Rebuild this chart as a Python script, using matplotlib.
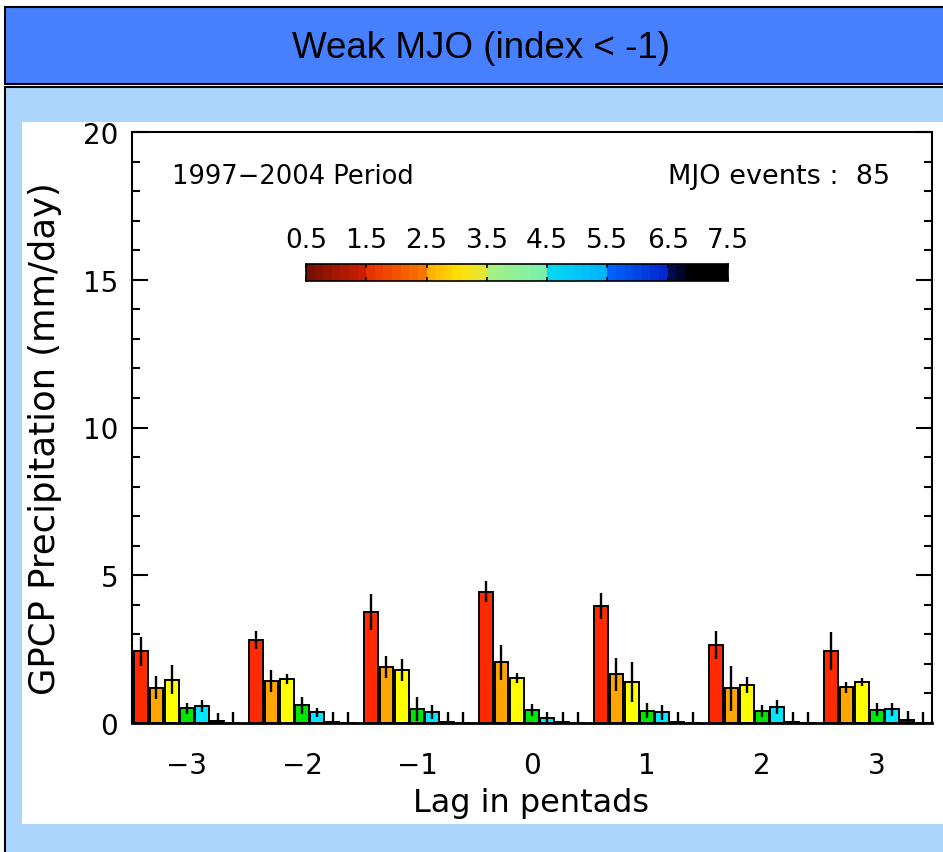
import numpy as np
import matplotlib
matplotlib.use('Agg')
import matplotlib.pyplot as plt
from matplotlib.patches import Rectangle
from matplotlib.colors import LinearSegmentedColormap

# ---------------- data ----------------
lags = [-3, -2, -1, 0, 1, 2, 3]
lag_labels = ['\u22123', '\u22122', '\u22121', '0', '1', '2', '3']
bin_labels = ['0.5', '1.5', '2.5', '3.5', '4.5', '5.5', '6.5', '7.5']
bin_colors = ['#ff2a00', '#ffa500', '#ffff00', '#00e600', '#00e8ff', '#0018c0', '#000000']

bin1 = [2.42, 2.80, 3.77, 4.45, 3.96, 2.63, 2.45]
bin1_err = [0.49, 0.31, 0.61, 0.37, 0.44, 0.48, 0.64]
bin2 = [1.20, 1.42, 1.90, 2.05, 1.65, 1.17, 1.21]
bin2_err = [0.39, 0.36, 0.37, 0.59, 0.56, 0.76, 0.19]
bin3 = [1.47, 1.50, 1.78, 1.52, 1.38, 1.30, 1.38]
bin3_err = [0.48, 0.17, 0.37, 0.17, 0.68, 0.27, 0.13]
bin4 = [0.50, 0.60, 0.47, 0.43, 0.42, 0.40, 0.45]
bin4_err = [0.19, 0.28, 0.40, 0.20, 0.26, 0.20, 0.22]
bin5 = [0.57, 0.36, 0.37, 0.18, 0.36, 0.54, 0.47]
bin5_err = [0.20, 0.16, 0.23, 0.19, 0.25, 0.25, 0.22]
bin6 = [0.06, 0.04, 0.04, 0.05, 0.02, 0.04, 0.10]
bin6_err = [0.29, 0.32, 0.32, 0.32, 0.34, 0.33, 0.29]
bin7 = [0.0, 0.0, 0.0, 0.0, 0.0, 0.0, 0.0]
bin7_err = [0.37, 0.37, 0.37, 0.37, 0.37, 0.37, 0.37]

bins = [bin1, bin2, bin3, bin4, bin5, bin6, bin7]
bins_err = [bin1_err, bin2_err, bin3_err, bin4_err, bin5_err, bin6_err, bin7_err]

title = 'Weak MJO (index < -1)'
period_text = '1997\u22122004 Period'
events_text = 'MJO events :  85'
ylabel = 'GPCP Precipitation (mm/day)'
xlabel = 'Lag in pentads'

# ---------------- figure ----------------
W, H = 943, 853
plt.rcParams['font.family'] = ['DejaVu Sans']
fig = plt.figure(figsize=(W / 100, H / 100), dpi=100, facecolor='white')


def fx(x):
    return x / W


def fy(y):
    return 1 - y / H


def rect(x0, y0, x1, y1, **kw):
    r = Rectangle((fx(x0), fy(y1)), fx(x1) - fx(x0), fy(y0) - fy(y1),
                  transform=fig.transFigure, **kw)
    fig.add_artist(r)
    return r


# backgrounds
rect(5, 8, 960, 85, facecolor='#4680ff', edgecolor='black', linewidth=1.5, zorder=-5)
rect(5, 88, 960, 870, facecolor='#aad5fd', edgecolor='black', linewidth=1.5, zorder=-5)
rect(22, 123, 960, 825, facecolor='white', edgecolor='none', zorder=-4)

fig.text(fx(481), fy(58), title, ha='center', va='baseline',
         fontsize=26.5, family='Liberation Sans', color='black')

# main axes
ax = fig.add_axes([fx(132), fy(724), fx(932) - fx(132), fy(133) - fy(724)])
ax.set_facecolor('white')
ax.set_xlim(-3.478, 3.478)
ax.set_ylim(0, 20)

pitch = 0.133
width = 0.119
lag_arr = np.array(lags, dtype=float)
for i, (vals, errs) in enumerate(zip(bins, bins_err)):
    v = np.array(vals)
    e = np.array(errs)
    xs = lag_arr + (i - 3) * pitch
    ax.bar(xs, v, width=width, color=bin_colors[i], edgecolor='black',
           linewidth=1.4, zorder=2)
    lo = v - np.minimum(e, v)
    ax.vlines(xs, lo, v + e, color='black', linewidth=1.7, zorder=3)

ax.set_xticks(lags)
ax.set_xticklabels(lag_labels)
ax.tick_params(axis='x', length=0, pad=20, labelsize=20)
ax.set_yticks([0, 5, 10, 15, 20])
ax.set_yticks(np.arange(0, 21, 1), minor=True)
ax.tick_params(axis='y', which='both', direction='in', left=True, right=True,
               labelsize=20, pad=10)
ax.tick_params(axis='y', which='major', length=11.5, width=1.5)
ax.tick_params(axis='y', which='minor', length=5.8, width=1.5)
for s in ax.spines.values():
    s.set_linewidth(1.5)
ax.spines['bottom'].set_linewidth(2.0)

fig.text(fx(172), fy(184), period_text, ha='left', va='baseline', fontsize=18.5)
fig.text(fx(890), fy(184), events_text, ha='right', va='baseline', fontsize=19.5)
fig.text(fx(45), fy(439), ylabel, rotation=90, ha='center', va='center', fontsize=25.5)
fig.text(fx(531), fy(804), xlabel, ha='center', va='center', fontsize=23)

# colour bar
cb_anchors = [(0.0, '#7a1000'), (0.140, '#d42000'), (0.143, '#e83200'),
              (0.284, '#ff7a00'), (0.286, '#ffb000'), (0.36, '#ffe000'),
              (0.427, '#e0e840'), (0.429, '#a8f080'), (0.569, '#78f0b0'),
              (0.572, '#00dcf0'), (0.712, '#00b4ff'), (0.715, '#0068ff'),
              (0.855, '#0028d0'), (0.858, '#001070'), (0.92, '#000000'),
              (1.0, '#000000')]
cmap = LinearSegmentedColormap.from_list('bins', cb_anchors, N=49)
cax = fig.add_axes([fx(306), fy(282), fx(728) - fx(306), fy(265) - fy(282)])
cax.imshow(np.linspace(0, 1, 49)[None, :], aspect='auto', cmap=cmap,
           extent=(0, 7, 0, 1), interpolation='nearest')
cax.set_xlim(0, 7)
cax.set_ylim(0, 1)
cax.set_yticks([])
cax.set_xticks(range(8))
cax.set_xticklabels(bin_labels)
cax.tick_params(axis='x', direction='in', top=True, bottom=True,
                labeltop=True, labelbottom=False, length=3, width=1.2,
                labelsize=19, pad=8)
for s in cax.spines.values():
    s.set_linewidth(1.2)

fig.savefig('out.png', dpi=100, facecolor='white')
